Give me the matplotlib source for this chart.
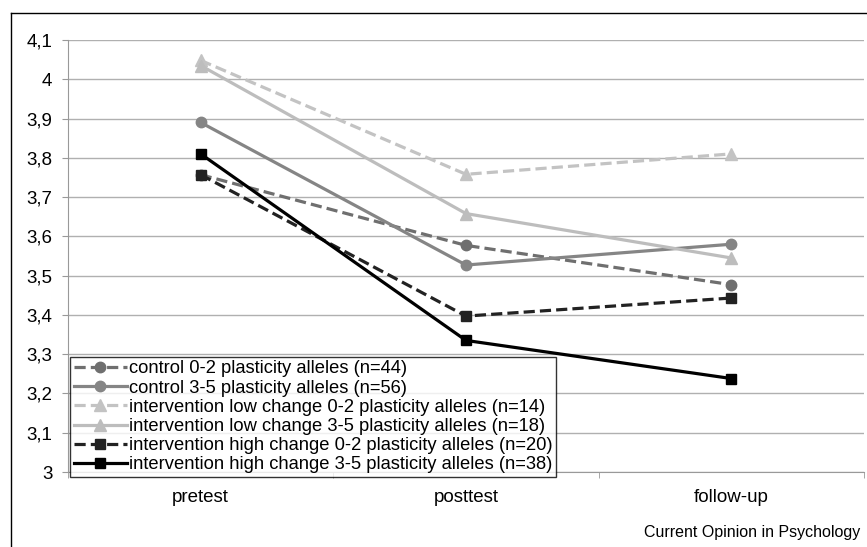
import matplotlib
matplotlib.use("Agg")
import matplotlib.pyplot as plt
from matplotlib.lines import Line2D
import numpy as np

plt.rcParams['font.family'] = ['Liberation Sans', 'DejaVu Sans']

# data
timepoints = ['pretest', 'posttest', 'follow-up']
ctrl_02 = [3.757, 3.577, 3.477]
ctrl_35 = [3.890, 3.527, 3.580]
low_02 = [4.048, 3.758, 3.810]
low_35 = [4.035, 3.658, 3.545]
high_02 = [3.757, 3.397, 3.443]
high_35 = [3.810, 3.335, 3.238]
y_ticks = [3.0, 3.1, 3.2, 3.3, 3.4, 3.5, 3.6, 3.7, 3.8, 3.9, 4.0, 4.1]

series = [
    (ctrl_02, 'control 0-2 plasticity alleles (n=44)', '#6f6f6f', 'o', True),
    (ctrl_35, 'control 3-5 plasticity alleles (n=56)', '#858585', 'o', False),
    (low_02, 'intervention low change 0-2 plasticity alleles (n=14)', '#c3c3c3', '^', True),
    (low_35, 'intervention low change 3-5 plasticity alleles (n=18)', '#bdbdbd', '^', False),
    (high_02, 'intervention high change 0-2 plasticity alleles (n=20)', '#222222', 's', True),
    (high_35, 'intervention high change 3-5 plasticity alleles (n=38)', '#000000', 's', False),
]

W, H = 867, 547
fig = plt.figure(figsize=(W / 100, H / 100), dpi=100)
ax = fig.add_axes([68 / W, 1 - 472 / H, (864 - 68) / W, (472 - 40) / H])

x = np.arange(len(timepoints))
for vals, lab, col, mk, dashed in series:
    ms = 8.5 if mk == '^' else 7.5
    ln, = ax.plot(x, vals, color=col, marker=mk, markersize=ms, lw=2.3,
                  label=lab, zorder=3)
    if dashed:
        ln.set_dashes([3.5, 1.6])

ax.set_xlim(-0.5, len(timepoints) - 0.5)
ax.set_ylim(3.0, 4.1)
ax.set_yticks(y_ticks)
ax.set_yticklabels([('%g' % v).replace('.', ',') for v in y_ticks], fontsize=13.5)
ax.set_xticks(x)
ax.set_xticklabels(timepoints, fontsize=13.5)
ax.tick_params(axis='x', length=0, pad=12)
ax.set_xticks(np.arange(-0.5, len(timepoints)), minor=True)
ax.tick_params(axis='x', which='minor', length=4, color='#999999', direction='out')
ax.tick_params(axis='y', length=4.3, color='#999999', pad=7)
ax.grid(axis='y', color='#b0b0b0', lw=1)
ax.set_axisbelow(True)
for s in ['top', 'right']:
    ax.spines[s].set_visible(False)
for s in ['left', 'bottom']:
    ax.spines[s].set_color('#999999')

leg = fig.legend(loc='lower left', bbox_to_anchor=(70 / W, 1 - 477 / H),
                 fontsize=13.2, frameon=True, fancybox=False, borderaxespad=0,
                 handlelength=2.9, handletextpad=0.1, labelspacing=0.12,
                 borderpad=0.2)
leg.get_frame().set_edgecolor('black')
leg.get_frame().set_linewidth(1)

# outer frame and credit
fig.add_artist(Line2D([11 / W, 11 / W], [0, 1 - 13 / H], color='black', lw=1))
fig.add_artist(Line2D([11 / W, 1], [1 - 13 / H, 1 - 13 / H], color='black', lw=1))
fig.text(860 / W, 1 - 533 / H, 'Current Opinion in Psychology', ha='right',
         va='center', fontsize=11.5)

fig.savefig('out.png', dpi=100)
